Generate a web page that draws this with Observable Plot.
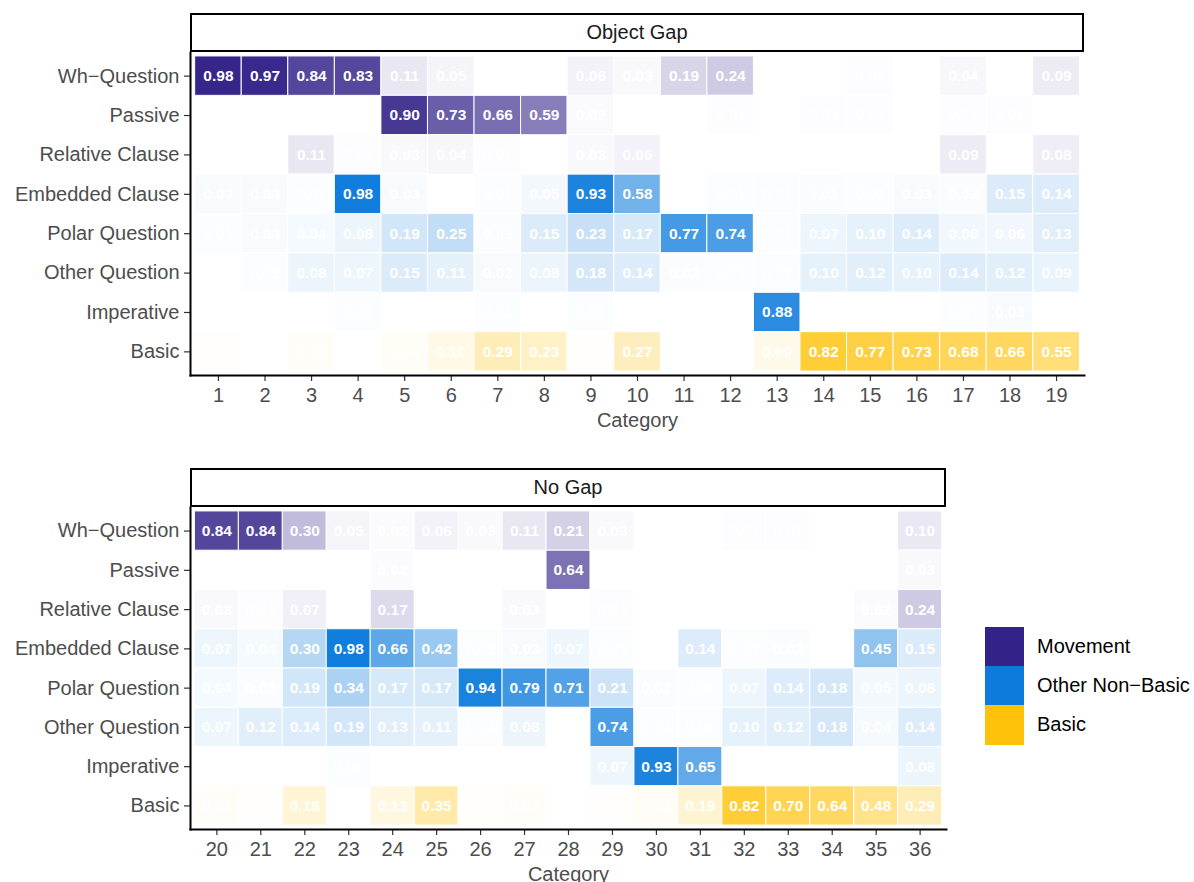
<!DOCTYPE html>
<html>
<head>
<meta charset="utf-8">
<script src="https://cdn.jsdelivr.net/npm/d3@7"></script>
<script src="https://cdn.jsdelivr.net/npm/@observablehq/plot@0.6"></script>
<style>
  html, body { margin: 0; padding: 0; background: #fff; }
  body { width: 1194px; height: 882px; position: relative; overflow: hidden;
         font-family: "Liberation Sans", Arial, Helvetica, sans-serif; }
  .strip { position: absolute; box-sizing: border-box; border: 2px solid #000; background: #fff;
           display: flex; align-items: center; justify-content: center; font-size: 20px; color: #1a1a1a; }
  .plotwrap { position: absolute; left: 0; }
  .legend { position: absolute; left: 985px; top: 627px; }
  .legend .item { display: flex; align-items: center; height: 39.2px; }
  .legend .sw { width: 39px; height: 39.2px; }
  .legend .lab { margin-left: 13px; font-size: 20px; color: #000; }
</style>
</head>
<body>
<script>
// ---------- data ----------
const rowLabels = ["Wh−Question", "Passive", "Relative Clause", "Embedded Clause",
                   "Polar Question", "Other Question", "Imperative", "Basic"];
const rowGroups = ["Movement", "Movement", "Movement", "Other Non−Basic",
                   "Other Non−Basic", "Other Non−Basic", "Other Non−Basic", "Basic"];
const groups = ["Movement", "Other Non−Basic", "Basic"];
const groupColors = ["#332288", "#0C7BDC", "#FFC20A"];

const objectGapTitle = "Object Gap";
const objectGapCategories = ["1","2","3","4","5","6","7","8","9","10","11","12","13","14","15","16","17","18","19"];
const objectGapWh       = [0.98,0.97,0.84,0.83,0.11,0.05,null,null,0.06,0.03,0.19,0.24,null,null,0.01,null,0.04,null,0.09];
const objectGapPassive  = [null,null,null,null,0.90,0.73,0.66,0.59,0.02,null,null,0.01,null,0.01,0.01,null,0.01,0.01,null];
const objectGapRelative = [null,null,0.11,0.01,0.03,0.04,0.01,null,0.03,0.06,null,null,null,null,null,null,0.09,null,0.08];
const objectGapEmbedded = [0.03,0.03,0.01,0.98,0.03,null,0.01,0.05,0.93,0.58,null,0.01,0.01,0.02,0.01,0.03,0.02,0.15,0.14];
const objectGapPolar    = [0.01,0.03,0.04,0.08,0.19,0.25,0.02,0.15,0.23,0.17,0.77,0.74,0.01,0.07,0.10,0.14,0.06,0.06,0.13];
const objectGapOtherQ   = [null,0.01,0.08,0.07,0.15,0.11,0.03,0.08,0.18,0.14,0.02,0.01,0.01,0.10,0.12,0.10,0.14,0.12,0.09];
const objectGapImper    = [null,null,null,0.01,null,null,0.01,null,0.01,null,null,null,0.88,null,null,null,0.01,0.03,null];
const objectGapBasic    = [0.01,null,0.03,null,0.04,0.10,0.29,0.23,0.01,0.27,null,null,0.09,0.82,0.77,0.73,0.68,0.66,0.55];

const noGapTitle = "No Gap";
const noGapCategories = ["20","21","22","23","24","25","26","27","28","29","30","31","32","33","34","35","36"];
const noGapWh       = [0.84,0.84,0.30,0.05,0.02,0.06,0.03,0.11,0.21,0.03,null,null,0.01,0.01,null,null,0.10];
const noGapPassive  = [null,null,null,null,0.02,null,null,null,0.64,null,null,null,null,null,null,null,0.03];
const noGapRelative = [0.03,0.01,0.07,null,0.17,null,null,0.03,null,0.01,null,null,null,null,null,0.02,0.24];
const noGapEmbedded = [0.07,0.04,0.30,0.98,0.66,0.42,0.01,0.03,0.07,0.01,null,0.14,0.01,0.02,null,0.45,0.15];
const noGapPolar    = [0.04,0.02,0.19,0.34,0.17,0.17,0.94,0.79,0.71,0.21,0.02,0.01,0.07,0.14,0.18,0.05,0.08];
const noGapOtherQ   = [0.07,0.12,0.14,0.19,0.13,0.11,0.01,0.08,null,0.74,0.01,0.01,0.10,0.12,0.18,0.04,0.14];
const noGapImper    = [null,null,null,0.01,null,null,null,null,null,0.07,0.93,0.65,null,null,null,null,0.08];
const noGapBasic    = [0.03,0.01,0.18,null,0.13,0.35,0.02,0.03,null,0.01,0.04,0.19,0.82,0.70,0.64,0.48,0.29];

// ---------- build tidy tables ----------
function tidy(categories, rowsValues) {
  const out = [];
  rowsValues.forEach((vals, i) => {
    vals.forEach((v, j) => {
      if (v != null) out.push({cat: categories[j], row: rowLabels[i], group: rowGroups[i], value: v});
    });
  });
  return out;
}
const objectGapData = tidy(objectGapCategories,
  [objectGapWh, objectGapPassive, objectGapRelative, objectGapEmbedded, objectGapPolar, objectGapOtherQ, objectGapImper, objectGapBasic]);
const noGapData = tidy(noGapCategories,
  [noGapWh, noGapPassive, noGapRelative, noGapEmbedded, noGapPolar, noGapOtherQ, noGapImper, noGapBasic]);

const fmt = d3.format(".2f");
const FONT = '"Liberation Sans", Arial, Helvetica, sans-serif';

function panel(data, categories, opts) {
  return Plot.plot({
    width: 1194,
    height: opts.height,
    marginLeft: 190,
    marginRight: opts.marginRight,
    marginTop: opts.marginTop,
    marginBottom: opts.marginBottom,
    style: {fontFamily: FONT, background: "transparent", overflow: "visible"},
    x: {type: "band", domain: categories, paddingInner: 0, paddingOuter: 0.1, round: false},
    y: {type: "band", domain: rowLabels, paddingInner: 0, paddingOuter: 0.1, round: false},
    color: {type: "ordinal", domain: groups, range: groupColors},
    opacity: {type: "linear", domain: [0, 1], range: [0, 1]},
    marks: [
      Plot.cell(data, {x: "cat", y: "row", fill: "group", fillOpacity: "value",
                       stroke: "white", strokeWidth: 1, inset: 0}),
      Plot.text(data, {x: "cat", y: "row", text: d => fmt(d.value), fill: "white",
                       fontWeight: "bold", fontSize: 15.5}),
      Plot.axisY({tickSize: 6, tickPadding: 5, fontSize: 20, stroke: "#333", fill: "#4d4d4d",
                  strokeWidth: 1.2, label: null}),
      Plot.axisX({tickSize: 6, tickPadding: 6, fontSize: 20, stroke: "#333", fill: "#4d4d4d",
                  strokeWidth: 1.2, label: "Category", labelAnchor: "center", labelArrow: "none",
                  labelOffset: opts.labelOffset}),
      Plot.frame({anchor: "left", stroke: "#000", strokeWidth: 2}),
      Plot.frame({anchor: "bottom", stroke: "#000", strokeWidth: 2})
    ]
  });
}

// top panel
const wrap1 = document.createElement("div");
wrap1.className = "plotwrap"; wrap1.style.top = "0px";
wrap1.append(panel(objectGapData, objectGapCategories,
  {height: 440, marginTop: 52, marginBottom: 65, marginRight: 110, labelOffset: 51}));
document.body.append(wrap1);

const strip1 = document.createElement("div");
strip1.className = "strip";
Object.assign(strip1.style, {left: "190px", top: "13px", width: "894px", height: "39px"});
strip1.textContent = objectGapTitle;
document.body.append(strip1);

// bottom panel
const wrap2 = document.createElement("div");
wrap2.className = "plotwrap"; wrap2.style.top = "440px";
wrap2.append(panel(noGapData, noGapCategories,
  {height: 442, marginTop: 67, marginBottom: 53, marginRight: 248, labelOffset: 51}));
document.body.append(wrap2);

const strip2 = document.createElement("div");
strip2.className = "strip";
Object.assign(strip2.style, {left: "190px", top: "468px", width: "756px", height: "39px"});
strip2.textContent = noGapTitle;
document.body.append(strip2);

// legend
const legend = document.createElement("div");
legend.className = "legend";
groups.forEach((g, i) => {
  const item = document.createElement("div"); item.className = "item";
  const sw = document.createElement("div"); sw.className = "sw"; sw.style.background = groupColors[i];
  const lab = document.createElement("div"); lab.className = "lab"; lab.textContent = g;
  item.append(sw, lab); legend.append(item);
});
document.body.append(legend);
</script>
</body>
</html>
